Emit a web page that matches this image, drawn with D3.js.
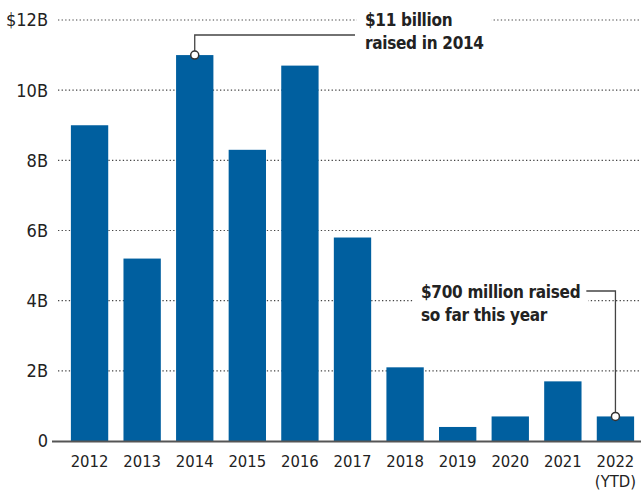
<!DOCTYPE html>
<html>
<head>
<meta charset="utf-8">
<script src="https://cdn.jsdelivr.net/npm/d3@7"></script>
<style>
  body { margin: 0; background: #fff; }
  text { font-family: "Liberation Sans Narrow", "DejaVu Sans Condensed", "Roboto", sans-serif; }
</style>
</head>
<body>
<div id="chart-wrapper"></div>
<script>
// Chart data
const years = ["2012", "2013", "2014", "2015", "2016", "2017", "2018", "2019", "2020", "2021", "2022"];
const amounts = [9.0, 5.2, 11.0, 8.3, 10.7, 5.8, 2.1, 0.4, 0.7, 1.7, 0.7];
const yTicks = [0, 2, 4, 6, 8, 10, 12];
const yTickLabels = ["0", "2B", "4B", "6B", "8B", "10B", "$12B"];

const initChart = () => {
  const fullWidth = 641,
    fullHeight = 491;

  const svg = d3.select("#chart-wrapper").append("svg")
    .attr("width", fullWidth)
    .attr("height", fullHeight);

  const xScale = d3.scaleBand()
    .domain(years)
    .range([63, 642])
    .paddingInner(0.29)
    .paddingOuter(0.15);

  const yScale = d3.scaleLinear()
    .domain([0, 12])
    .range([441, 20]);

  // Gridlines
  svg.append("g")
    .selectAll("line")
    .data(yTicks.filter(d => d > 0))
    .enter()
    .append("line")
    .attr("x1", 58)
    .attr("x2", fullWidth)
    .attr("y1", d => yScale(d))
    .attr("y2", d => yScale(d))
    .attr("stroke", "#444")
    .attr("stroke-width", 1.2)
    .attr("stroke-dasharray", "1.3,2.3");

  // Y labels
  svg.append("g")
    .selectAll("text")
    .data(yTicks)
    .enter()
    .append("text")
    .attr("x", 48)
    .attr("y", d => yScale(d))
    .attr("dy", "0.36em")
    .attr("text-anchor", "end")
    .attr("font-size", 18)
    .attr("fill", "#222")
    .text((d, i) => yTickLabels[i]);

  // Bars
  svg.append("g")
    .selectAll("rect")
    .data(amounts)
    .enter()
    .append("rect")
    .attr("x", (d, i) => xScale(years[i]))
    .attr("y", d => yScale(d))
    .attr("width", xScale.bandwidth())
    .attr("height", d => yScale(0) - yScale(d))
    .attr("fill", "#005f9f");

  // Baseline
  svg.append("line")
    .attr("x1", 52)
    .attr("x2", fullWidth)
    .attr("y1", yScale(0) + 0.5)
    .attr("y2", yScale(0) + 0.5)
    .attr("stroke", "#555")
    .attr("stroke-width", 2);

  // X labels
  svg.append("g")
    .selectAll("text")
    .data(years)
    .enter()
    .append("text")
    .attr("x", d => xScale(d) + xScale.bandwidth() / 2)
    .attr("y", 467)
    .attr("text-anchor", "middle")
    .attr("font-size", 16.5)
    .attr("fill", "#222")
    .text(d => d);

  svg.append("text")
    .attr("x", xScale("2022") + xScale.bandwidth() / 2)
    .attr("y", 487)
    .attr("text-anchor", "middle")
    .attr("font-size", 16.5)
    .attr("fill", "#222")
    .text("(YTD)");

  // Annotation helper
  const note = (lines, x, y) => {
    const g = svg.append("g");
    const t = g.append("text")
      .attr("font-size", 17)
      .attr("font-weight", "bold")
      .attr("letter-spacing", -0.3)
      .attr("fill", "#222");
    lines.forEach((l, i) => {
      t.append("tspan").attr("x", x).attr("y", y + i * 23).text(l);
    });
    const bb = t.node().getBBox();
    g.insert("rect", "text")
      .attr("x", bb.x - 8)
      .attr("y", bb.y - 2)
      .attr("width", bb.width + 16)
      .attr("height", bb.height + 4)
      .attr("fill", "#fff");
    return t.select("tspan").node().getComputedTextLength();
  };

  // $11 billion note
  const x14 = xScale("2014") + xScale.bandwidth() / 2;
  note(["$11 billion", "raised in 2014"], 365, 26);
  svg.append("path")
    .attr("d", `M${x14},${yScale(11)} V35 H355`)
    .attr("fill", "none")
    .attr("stroke", "#444")
    .attr("stroke-width", 1.3);
  svg.append("circle")
    .attr("cx", x14)
    .attr("cy", yScale(11))
    .attr("r", 4)
    .attr("fill", "#fff")
    .attr("stroke", "#333")
    .attr("stroke-width", 1.5);

  // $700 million note
  const x22 = xScale("2022") + xScale.bandwidth() / 2;
  const w700 = note(["$700 million raised", "so far this year"], 421, 298);
  svg.append("path")
    .attr("d", `M${421 + w700 + 6},291 H${x22} V${yScale(0.7)}`)
    .attr("fill", "none")
    .attr("stroke", "#444")
    .attr("stroke-width", 1.3);
  svg.append("circle")
    .attr("cx", x22)
    .attr("cy", yScale(0.7))
    .attr("r", 4)
    .attr("fill", "#fff")
    .attr("stroke", "#333")
    .attr("stroke-width", 1.5);
}

window.onload = () => {
  initChart();
}
</script>
</body>
</html>
